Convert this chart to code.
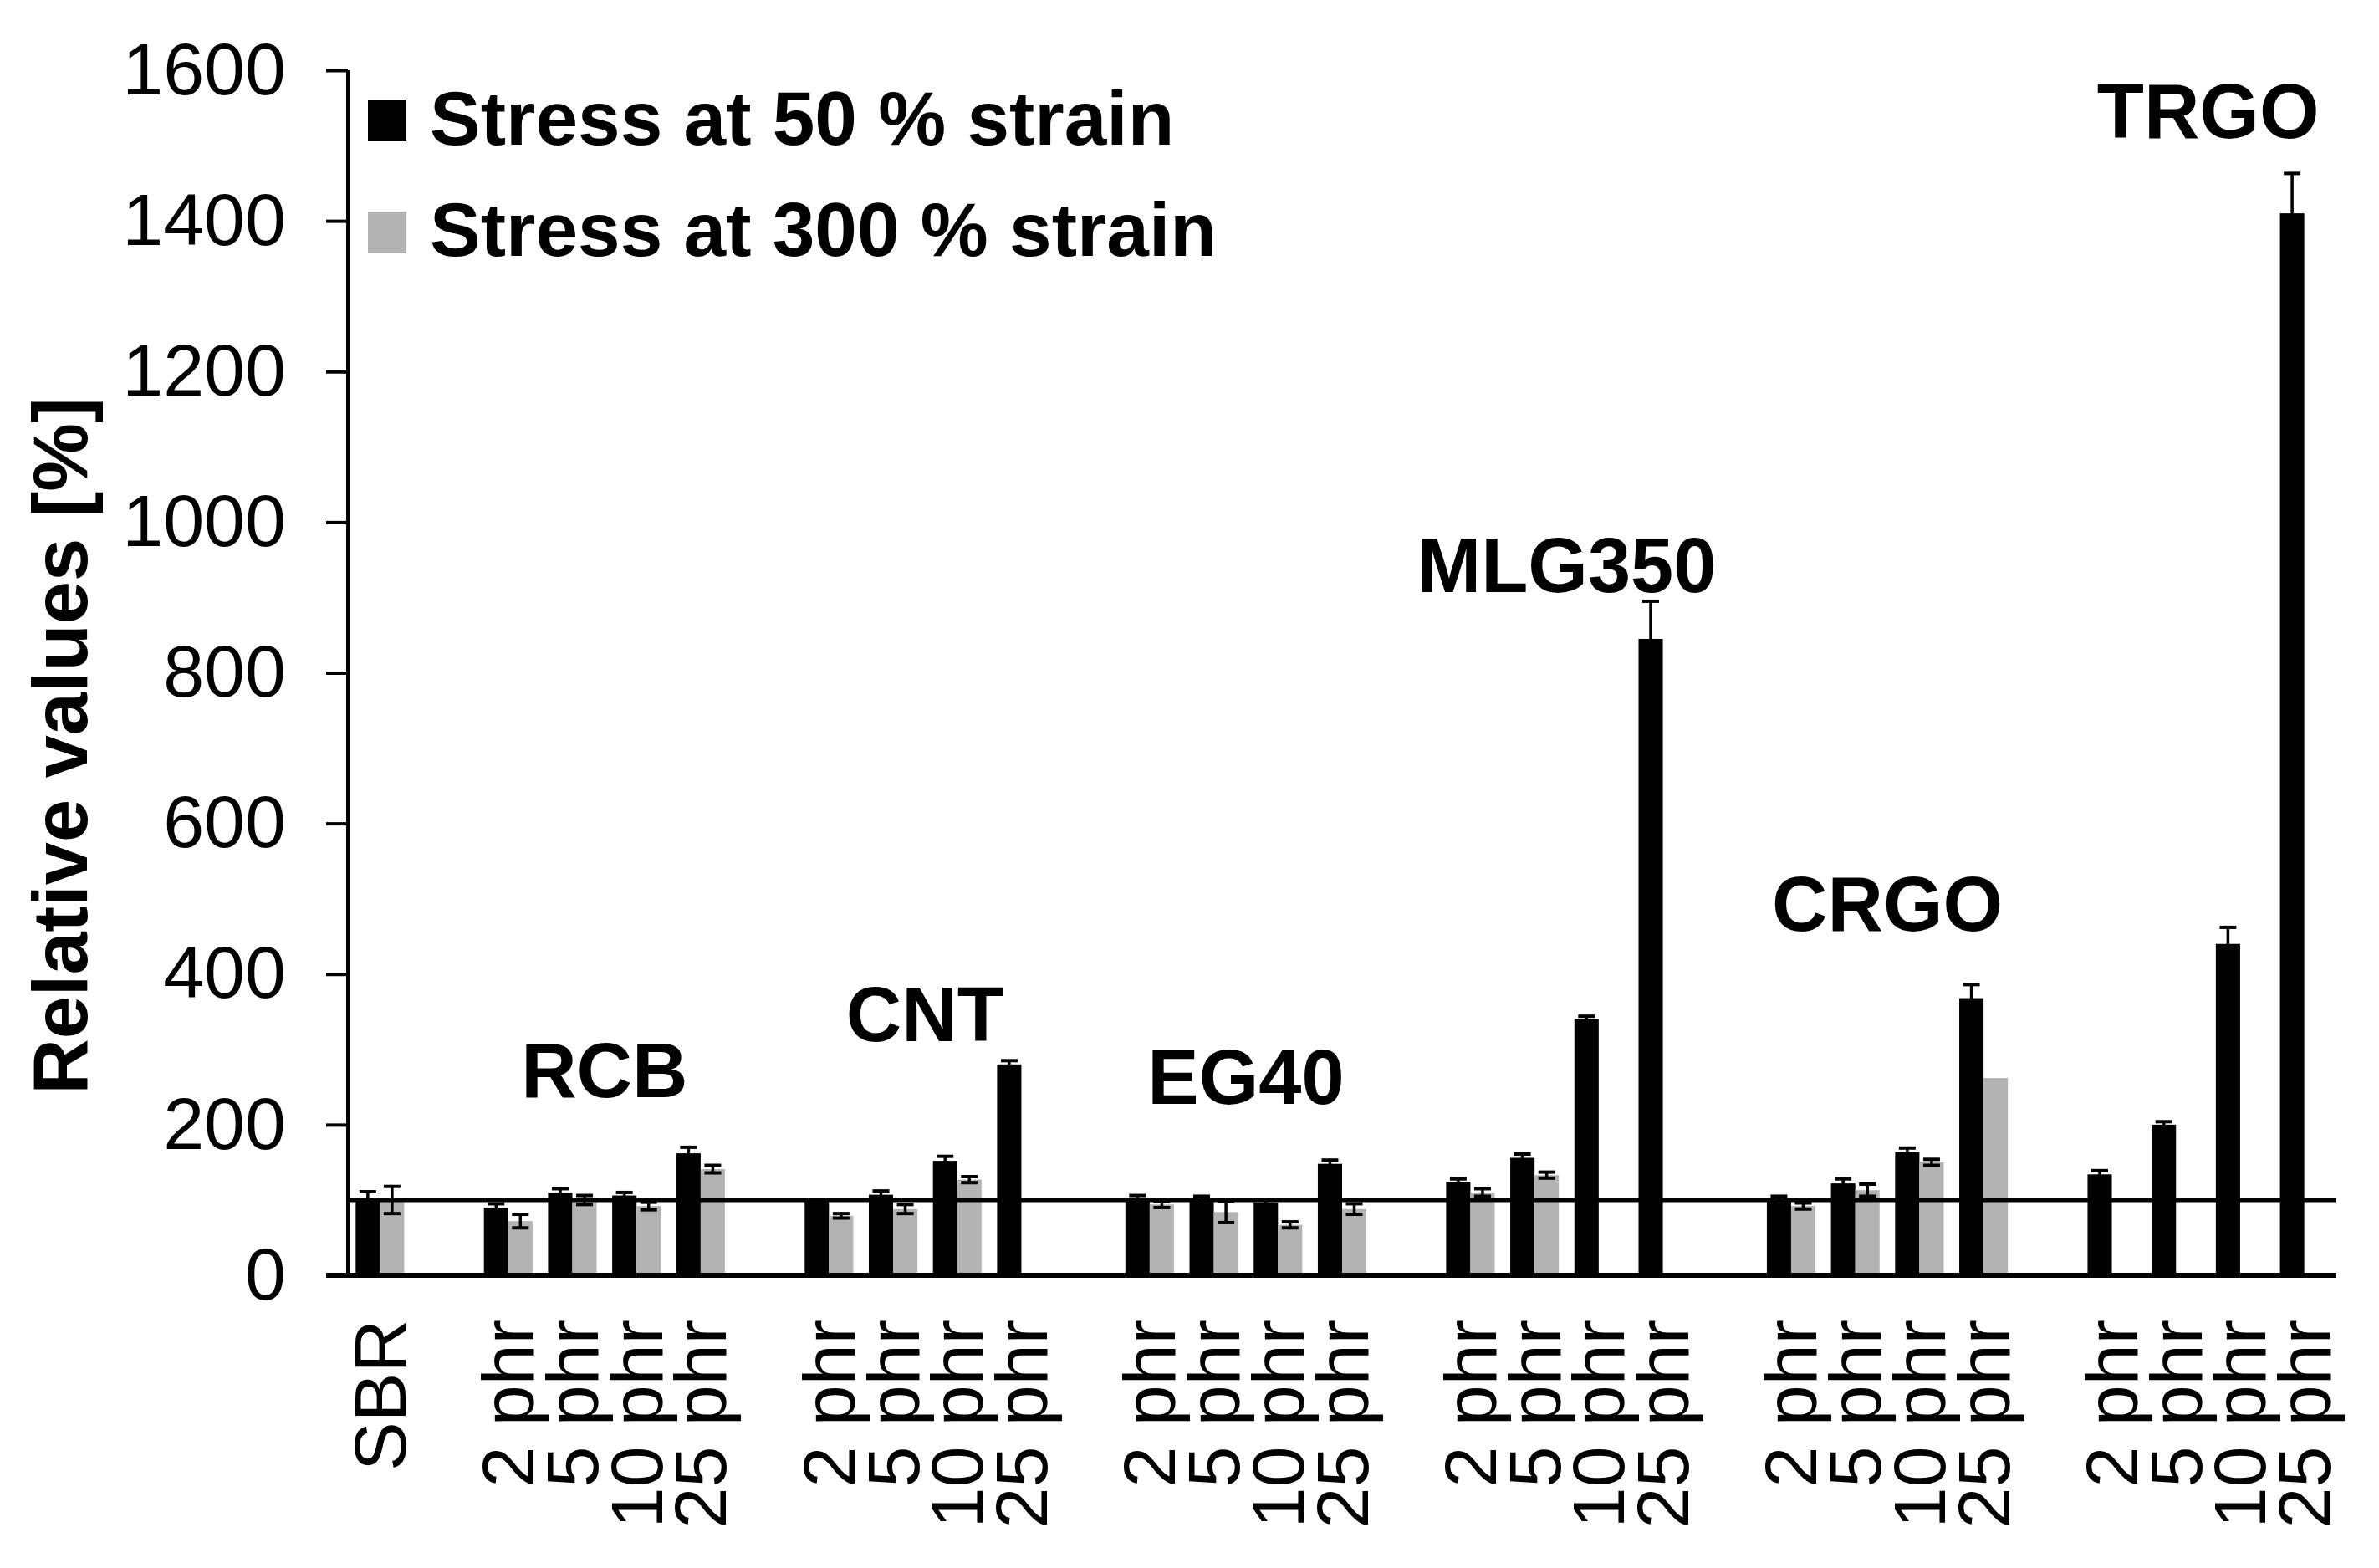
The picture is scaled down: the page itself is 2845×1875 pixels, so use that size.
<!DOCTYPE html>
<html>
<head>
<meta charset="utf-8">
<script src="https://cdn.jsdelivr.net/npm/d3@7"></script>
<style>
  body { margin: 0; background: #fff; }
  text { font-family: 'Liberation Sans', Arial, sans-serif; fill: #000; }
</style>
</head>
<body>
<div class="chart"></div>
<script>
// groups and loadings along the category axis
const groups = ['RCB', 'CNT', 'EG40', 'MLG350', 'CRGO', 'TRGO'];
const loadings = ['2 phr', '5 phr', '10 phr', '25 phr'];

// relative values [%], SBR first then each group in loading order
const stress50 = [
  100,
  90, 110, 106, 162,
  98, 107, 152, 280,
  102, 101, 97, 148,
  124, 156, 340, 845,
  102, 122, 164, 368,
  134, 200, 440, 1410,
];
const err50 = [
  11,
  5, 5, 4, 8,
  3, 5, 6, 5,
  4, 4, 4, 5,
  4, 5, 4, 50,
  3, 6, 5, 18,
  5, 4, 22, 53,
];
const stress300 = [
  100,
  72, 100, 92, 141,
  79, 88, 127, null,
  94, 84, 67, 88,
  110, 133, null, null,
  92, 113, 150, 262,
  null, null, null, null,
];
const err300 = [
  18,
  9, 6, 5, 5,
  3, 6, 4, 0,
  4, 14, 4, 7,
  5, 4, 0, 0,
  4, 8, 4, 0,
  0, 0, 0, 0,
];
// height (in axis units) of each group caption
const groupLabelAt = [236, 311, 228, 907, 457, 1510];

const yTicks = [0, 200, 400, 600, 800, 1000, 1200, 1400, 1600];
const seriesNames = ['Stress at 50 % strain', 'Stress at 300 % strain'];
const seriesColors = ['#000000', '#b3b3b3'];

function buildSlots() {
  // one slot per category plus an empty slot in front of each group
  const slots = [{ key: 'SBR', label: 'SBR', idx: 0 }];
  let idx = 1;
  groups.forEach((g) => {
    slots.push({ key: 'gap-' + g, label: '', idx: -1 });
    loadings.forEach((l) => {
      slots.push({ key: g + '|' + l, label: l, idx: idx });
      idx++;
    });
  });
  return slots;
}

function draw() {
  const width = 2845;
  const height = 1875;
  const plot = { left: 416, right: 2794, top: 84, bottom: 1525 };

  const svg = d3
    .select('.chart')
    .append('svg')
    .attr('width', width)
    .attr('height', height);

  const slots = buildSlots();

  const x = d3
    .scaleBand()
    .domain(slots.map((d) => d.key))
    .range([plot.left, plot.right])
    .paddingInner(0)
    .paddingOuter(0);

  const xs = d3
    .scaleBand()
    .domain(['s50', 's300'])
    .range([0, x.bandwidth()])
    .paddingInner(0)
    .paddingOuter(0.32);

  const y = d3
    .scaleLinear()
    .domain([0, 1600])
    .range([plot.bottom, plot.top]);

  // bars
  const rows = [];
  slots.forEach((s) => {
    if (s.idx < 0) return;
    rows.push({ key: s.key, series: 's50', value: stress50[s.idx], err: err50[s.idx], color: seriesColors[0] });
    if (stress300[s.idx] !== null) {
      rows.push({ key: s.key, series: 's300', value: stress300[s.idx], err: err300[s.idx], color: seriesColors[1] });
    }
  });

  svg
    .append('g')
    .selectAll('rect')
    .data(rows)
    .join('rect')
    .attr('x', (d) => x(d.key) + xs(d.series))
    .attr('y', (d) => y(d.value))
    .attr('width', xs.bandwidth())
    .attr('height', (d) => y(0) - y(d.value))
    .attr('fill', (d) => d.color);

  // error bars
  const errRows = rows.filter((d) => d.err > 0);
  const eb = svg.append('g').attr('stroke', '#000');
  eb.selectAll('line.stem')
    .data(errRows)
    .join('line')
    .attr('class', 'stem')
    .attr('x1', (d) => x(d.key) + xs(d.series) + xs.bandwidth() / 2)
    .attr('x2', (d) => x(d.key) + xs(d.series) + xs.bandwidth() / 2)
    .attr('y1', (d) => y(d.value - d.err))
    .attr('y2', (d) => y(d.value + d.err))
    .attr('stroke-width', 3.5);
  [1, -1].forEach((sign) => {
    eb.selectAll('line.cap' + (sign > 0 ? 'hi' : 'lo'))
      .data(errRows)
      .join('line')
      .attr('class', 'cap' + (sign > 0 ? 'hi' : 'lo'))
      .attr('x1', (d) => x(d.key) + xs(d.series) + xs.bandwidth() / 2 - 10)
      .attr('x2', (d) => x(d.key) + xs(d.series) + xs.bandwidth() / 2 + 10)
      .attr('y1', (d) => y(d.value + sign * d.err))
      .attr('y2', (d) => y(d.value + sign * d.err))
      .attr('stroke-width', 4);
  });

  // 100 % reference line
  svg
    .append('line')
    .attr('x1', plot.left)
    .attr('x2', plot.right)
    .attr('y1', y(100))
    .attr('y2', y(100))
    .attr('stroke', '#000')
    .attr('stroke-width', 5);

  // y axis
  const yAxis = svg
    .append('g')
    .attr('transform', 'translate(' + plot.left + ',0)')
    .call(
      d3
        .axisLeft(y)
        .tickValues(yTicks)
        .tickFormat(d3.format('d'))
        .tickSize(26)
        .tickPadding(48)
    );
  yAxis.select('.domain').attr('stroke-width', 4).attr('d', 'M0,' + y(1600) + 'V' + y(0));
  yAxis.selectAll('.tick line').attr('stroke-width', 4);
  yAxis
    .selectAll('.tick text')
    .style('font-size', '88px')
    .style('font-family', "'Liberation Sans', Arial, sans-serif");

  // x axis baseline and category labels
  const xAxis = svg
    .append('g')
    .attr('transform', 'translate(0,' + plot.bottom + ')')
    .call(
      d3
        .axisBottom(x)
        .tickSize(0)
        .tickFormat((k) => slots.find((s) => s.key === k).label)
    );
  xAxis.select('.domain').attr('stroke-width', 6).attr('d', 'M' + (plot.left - 26) + ',0H' + plot.right);
  xAxis
    .selectAll('.tick text')
    .attr('transform', 'translate(0,53)rotate(-90)')
    .attr('x', 0)
    .attr('y', 0)
    .attr('dy', null)
    .attr('dominant-baseline', 'central')
    .attr('text-anchor', 'end')
    .style('font-size', '88px')
    .style('font-family', "'Liberation Sans', Arial, sans-serif");

  // group captions
  svg
    .append('g')
    .selectAll('text')
    .data(groups)
    .join('text')
    .attr('x', (g) => (x(g + '|' + loadings[0]) + x(g + '|' + loadings[3]) + x.bandwidth()) / 2)
    .attr('y', (g, i) => y(groupLabelAt[i]))
    .attr('text-anchor', 'middle')
    .style('font-size', '92px')
    .style('font-weight', 'bold')
    .text((g) => g);

  // y axis title
  svg
    .append('text')
    .attr('transform', 'translate(104,892)rotate(-90)')
    .attr('text-anchor', 'middle')
    .style('font-size', '92px')
    .style('font-weight', 'bold')
    .text('Relative values [%]');

  // legend
  const legend = svg.append('g');
  seriesNames.forEach((name, i) => {
    legend
      .append('rect')
      .attr('x', 440)
      .attr('y', 119 + i * 134)
      .attr('width', 46)
      .attr('height', 50)
      .attr('fill', seriesColors[i]);
    legend
      .append('text')
      .attr('x', 514)
      .attr('y', 173 + i * 133)
      .style('font-size', '91px')
      .style('font-weight', 'bold')
      .text(name);
  });
}

draw();
</script>
</body>
</html>
